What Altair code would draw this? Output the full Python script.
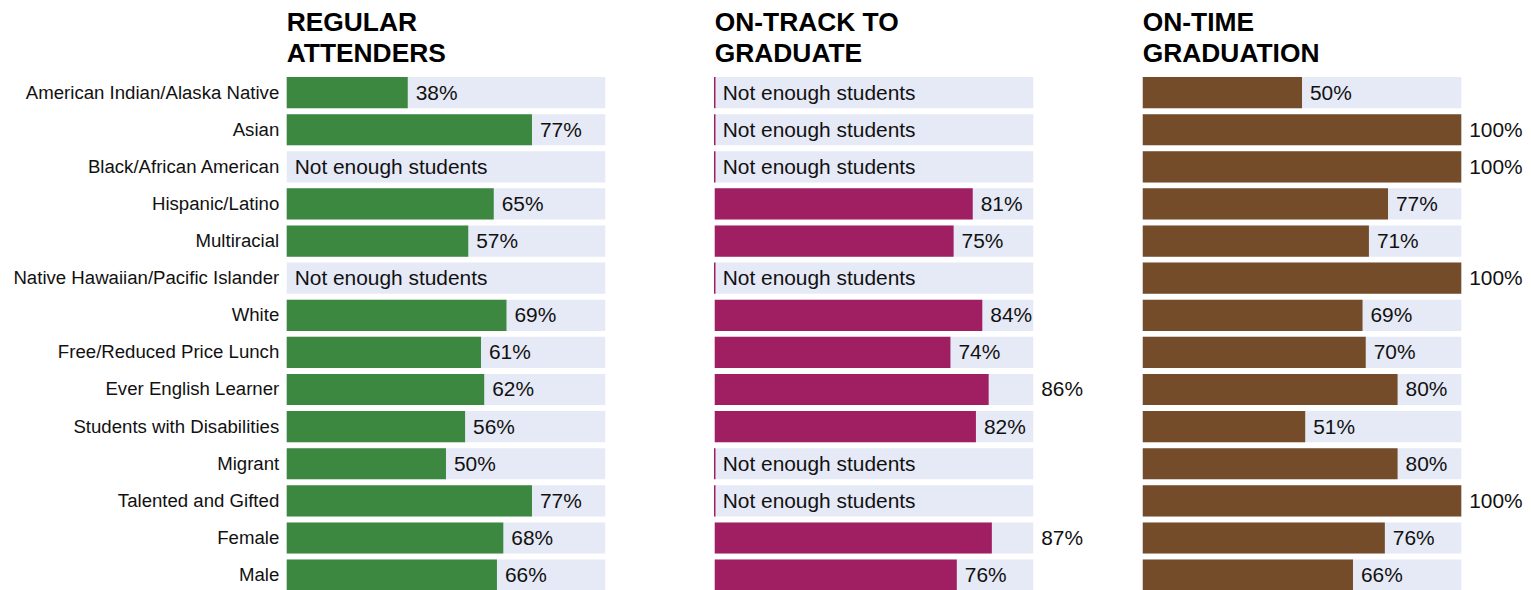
import altair as alt
import pandas as pd

categories = [
    "American Indian/Alaska Native", "Asian", "Black/African American",
    "Hispanic/Latino", "Multiracial", "Native Hawaiian/Pacific Islander",
    "White", "Free/Reduced Price Lunch", "Ever English Learner",
    "Students with Disabilities", "Migrant", "Talented and Gifted",
    "Female", "Male",
]
regular_attenders = [38, 77, None, 65, 57, None, 69, 61, 62, 56, 50, 77, 68, 66]
on_track = [None, None, None, 81, 75, None, 84, 74, 86, 82, None, None, 87, 76]
on_time = [50, 100, 100, 77, 71, 100, 69, 70, 80, 51, 80, 100, 76, 66]

titles = [["REGULAR", "ATTENDERS"], ["ON-TRACK TO", "GRADUATE"], ["ON-TIME", "GRADUATION"]]
colors = ["#3c8841", "#a01f62", "#744c2a"]
BG = "#e6e9f6"
FONT = "Liberation Sans"
MISSING = "Not enough students"


def panel(values, title, color, show_axis, mark_missing):
    df = pd.DataFrame({
        "cat": categories,
        "value": [v if v is not None else 0 for v in values],
        "missing": [v is None for v in values],
        "label": [f"{v}%" if v is not None else MISSING for v in values],
        "full": [100] * len(categories),
    })
    # labels that would not fit in the remaining track go outside the track
    df["pos"] = [0 if v is None else (v if v <= 85 else 100) for v in values]

    axis = alt.Axis(
        title=None, ticks=False, domain=False, labelPadding=8,
        labelFontSize=18.7, labelFont=FONT, labelColor="#111111", labelLimit=400,
    ) if show_axis else None
    y = alt.Y("cat:N", sort=categories, axis=axis,
              scale=alt.Scale(paddingInner=0.16, paddingOuter=0.08))
    xscale = alt.Scale(domain=[0, 100], nice=False)

    base = alt.Chart(df).encode(y=y)
    bg = base.mark_bar(color=BG).encode(
        x=alt.X("full:Q", scale=xscale, axis=None))
    bars = base.mark_bar(color=color).encode(
        x=alt.X("value:Q", scale=xscale, axis=None)
    ).transform_filter("!datum.missing")
    layers = [bg, bars]
    if mark_missing:
        stub = base.mark_bar(color=color, stroke=color, strokeWidth=1.5).encode(
            x=alt.X("value:Q", scale=xscale, axis=None)
        ).transform_filter("datum.missing")
        layers.append(stub)
    txt = base.mark_text(align="left", baseline="middle", dx=8, dy=1,
                         fontSize=21, font=FONT, color="#111111").encode(
        x=alt.X("pos:Q", scale=xscale, axis=None),
        text="label:N",
    )
    layers.append(txt)
    return alt.layer(*layers).properties(
        width=320, height=522,
        title=alt.TitleParams(text=title, anchor="start", frame="group",
                              fontSize=26.5, fontWeight="bold", font=FONT,
                              color="#000000", lineHeight=31, offset=7),
    )


p1 = panel(regular_attenders, titles[0], colors[0], True, False)
p2 = panel(on_track, titles[1], colors[1], False, True)
p3 = panel(on_time, titles[2], colors[2], False, False)

chart = alt.HConcatChart(hconcat=[p1, p2, p3], spacing=110, bounds="flush").properties(
    padding={"left": 5, "top": 0, "right": 0, "bottom": 0},
    background="white",
).configure_view(stroke=None)

chart.save("out.html", embed_options={"renderer": "svg", "actions": False})
